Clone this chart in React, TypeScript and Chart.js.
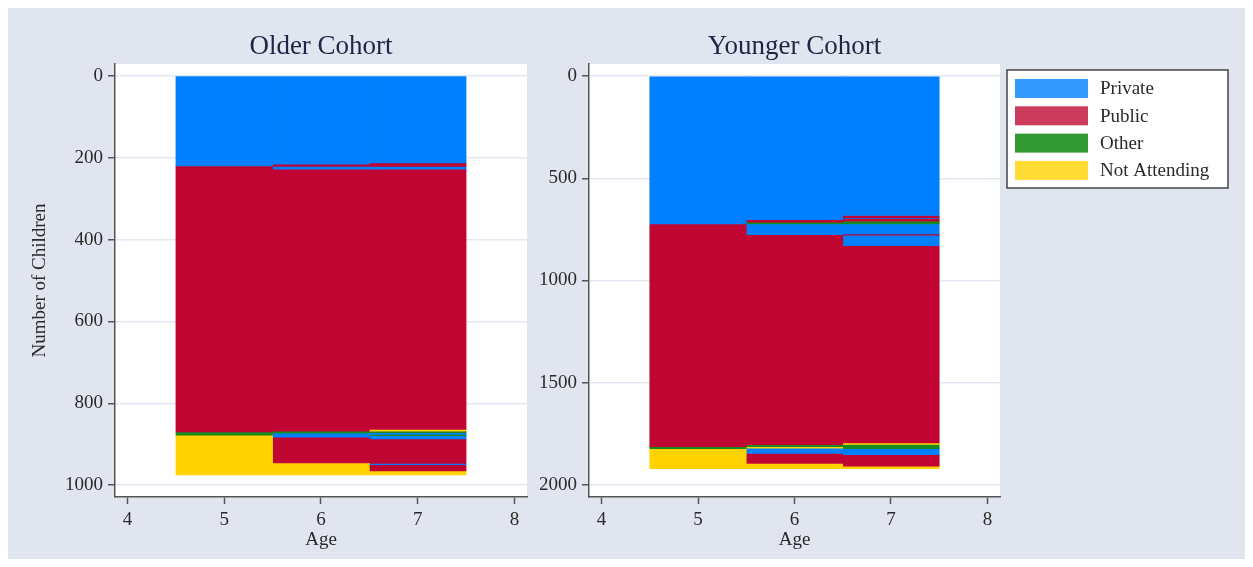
import React, { useEffect, useRef } from 'react';
import { Chart, registerables } from 'chart.js';

Chart.register(...registerables);

// ---------- data ----------
const ages = [5, 6, 7];
const xTicks = [4, 5, 6, 7, 8];
const statusNames = ['Private', 'Public', 'Other', 'Not Attending'];

const olderTicks = [0, 200, 400, 600, 800, 1000];
const youngerTicks = [0, 500, 1000, 1500, 2000];

// Older cohort: segments from top to bottom, status index into statusNames
const olderAge5Counts = [220, 650, 8, 97];
const olderAge5Status = [0, 1, 2, 3];
const olderAge6Counts = [216, 5, 7, 640, 5, 10, 63, 29];
const olderAge6Status = [0, 1, 0, 1, 2, 0, 1, 3];
const olderAge7Counts = [213, 8, 7, 636, 4, 4, 4, 3, 8, 60, 3, 15, 10];
const olderAge7Status = [0, 1, 0, 1, 3, 2, 0, 2, 0, 1, 0, 1, 3];

// Younger cohort
const youngerAge5Counts = [723, 1090, 10, 97];
const youngerAge5Status = [0, 1, 2, 3];
const youngerAge6Counts = [703, 12, 8, 53, 1027, 10, 7, 26, 49, 25];
const youngerAge6Status = [0, 1, 2, 0, 1, 2, 3, 0, 1, 3];
const youngerAge7Counts = [682, 12, 4, 12, 13, 49, 6, 52, 964, 8, 21, 29, 56, 12];
const youngerAge7Status = [0, 1, 0, 1, 2, 0, 1, 0, 1, 3, 2, 0, 1, 3];

// ---------- styles ----------
const barColors = ['#0080ff', '#c00532', '#168a1e', '#ffd200'];
const legendColors = ['#3399ff', '#cc3a5c', '#339933', '#ffdc33'];
const FONT = "'Liberation Serif', 'Times New Roman', serif";
const BG = '#e0e5ef';
const AXIS = '#555555';
const TEXT = '#2a2a2a';
const TITLE = '#1c2745';

type Seg = { counts: number[]; status: number[] };

function buildDatasets(segs: Seg[]) {
  const maxLen = Math.max(...segs.map((s) => s.counts.length));
  const ds: any[] = [];
  for (let i = 0; i < maxLen; i++) {
    const data: any[] = [];
    segs.forEach((s, a) => {
      if (i < s.counts.length) data.push({ x: ages[a], y: s.counts[i], s: s.status[i] });
    });
    ds.push({
      label: 'layer' + i,
      data,
      stack: 'all',
      backgroundColor: (c: any) => barColors[c.raw ? c.raw.s : 0],
      borderWidth: 0,
      barPercentage: 1,
      categoryPercentage: 1,
    });
  }
  return ds;
}

const plotBg = {
  id: 'plotBg',
  beforeDraw(chart: any) {
    const { ctx, chartArea } = chart;
    ctx.save();
    ctx.fillStyle = '#ffffff';
    ctx.fillRect(chartArea.left, chartArea.top, chartArea.right - chartArea.left, chartArea.bottom - chartArea.top);
    ctx.restore();
  },
};

const boxLegend = {
  id: 'boxLegend',
  afterDraw(chart: any) {
    const { ctx, chartArea } = chart;
    const x0 = chartArea.right + 7;
    const y0 = 62;
    const w = 221;
    const h = 118;
    ctx.save();
    ctx.fillStyle = '#ffffff';
    ctx.fillRect(x0, y0, w, h);
    ctx.strokeStyle = '#444444';
    ctx.lineWidth = 1.5;
    ctx.strokeRect(x0, y0, w, h);
    ctx.font = `19px ${FONT}`;
    ctx.textBaseline = 'middle';
    ctx.textAlign = 'left';
    statusNames.forEach((name, i) => {
      const top = y0 + 9 + i * 27.3;
      ctx.fillStyle = legendColors[i];
      ctx.fillRect(x0 + 8, top, 73, 19);
      ctx.fillStyle = TEXT;
      ctx.fillText(name, x0 + 93, top + 10.5);
    });
    ctx.restore();
  },
};

function makeConfig(opts: {
  title: string;
  segs: Seg[];
  ticks: number[];
  yMin: number;
  yMax: number;
  yWidth: number;
  yTitle?: string;
  padRight: number;
  legend: boolean;
}) {
  const tickFont = { family: FONT, size: 19 };
  return {
    type: 'bar',
    data: { datasets: buildDatasets(opts.segs) },
    options: {
      animation: false,
      responsive: false,
      maintainAspectRatio: false,
      layout: { padding: { left: 0, right: opts.padRight, top: 0, bottom: 0 } },
      plugins: {
        legend: { display: false },
        tooltip: { enabled: false },
        title: {
          display: true,
          text: opts.title,
          fullSize: false,
          color: TITLE,
          font: { family: FONT, size: 27, weight: 'normal' },
          padding: { top: 22.8, bottom: 0.8 },
        },
      },
      scales: {
        x: {
          type: 'linear',
          min: 3.87,
          max: 8.13,
          offset: false,
          stacked: true,
          afterBuildTicks: (s: any) => {
            s.ticks = xTicks.map((v) => ({ value: v }));
          },
          afterFit: (s: any) => {
            s.height = 62;
          },
          grid: { offset: false, drawOnChartArea: false, tickLength: 7, tickColor: AXIS, tickWidth: 1.5 },
          border: { color: AXIS, width: 1.5 },
          ticks: { font: tickFont, color: TEXT, padding: 5, callback: (v: any) => String(v) },
          title: { display: true, text: 'Age', color: TEXT, font: tickFont, padding: { top: 0, bottom: 7.5 } },
        },
        y: {
          type: 'linear',
          reverse: true,
          stacked: true,
          min: opts.yMin,
          max: opts.yMax,
          afterBuildTicks: (s: any) => {
            s.ticks = opts.ticks.map((v) => ({ value: v }));
          },
          afterFit: (s: any) => {
            s.width = opts.yWidth;
          },
          grid: { color: '#e3e7f1', lineWidth: 1.5, tickLength: 7, tickColor: AXIS, tickWidth: 1.5 },
          border: { color: AXIS, width: 1.5 },
          ticks: { font: tickFont, color: TEXT, padding: 5, callback: (v: any) => String(v) },
          title: opts.yTitle
            ? { display: true, text: opts.yTitle, color: TEXT, font: tickFont, padding: { top: 21, bottom: 0 } }
            : { display: false },
        },
      },
    },
    plugins: opts.legend ? [plotBg, boxLegend] : [plotBg],
  };
}

function ChartCanvas(props: { config: any; width: number; height: number; left: number }) {
  const ref = useRef<HTMLCanvasElement | null>(null);
  useEffect(() => {
    if (!ref.current) return;
    const chart = new Chart(ref.current, props.config);
    return () => chart.destroy();
  }, []);
  return (
    <canvas
      ref={ref}
      width={props.width}
      height={props.height}
      style={{ position: 'absolute', left: props.left, top: 0, width: props.width, height: props.height }}
    />
  );
}

export default function App() {
  const older = makeConfig({
    title: 'Older Cohort',
    segs: [
      { counts: olderAge5Counts, status: olderAge5Status },
      { counts: olderAge6Counts, status: olderAge6Status },
      { counts: olderAge7Counts, status: olderAge7Status },
    ],
    ticks: olderTicks,
    yMin: -29,
    yMax: 1029,
    yWidth: 107,
    yTitle: 'Number of Children',
    padRight: 13,
    legend: false,
  });
  const younger = makeConfig({
    title: 'Younger Cohort',
    segs: [
      { counts: youngerAge5Counts, status: youngerAge5Status },
      { counts: youngerAge6Counts, status: youngerAge6Status },
      { counts: youngerAge7Counts, status: youngerAge7Status },
    ],
    ticks: youngerTicks,
    yMin: -59,
    yMax: 2059,
    yWidth: 49,
    padRight: 245,
    legend: true,
  });
  return (
    <div style={{ position: 'relative', width: 1237, height: 551, background: BG, overflow: 'hidden' }}>
      <ChartCanvas config={older} width={532} height={551} left={0} />
      <ChartCanvas config={younger} width={705} height={551} left={532} />
    </div>
  );
}
